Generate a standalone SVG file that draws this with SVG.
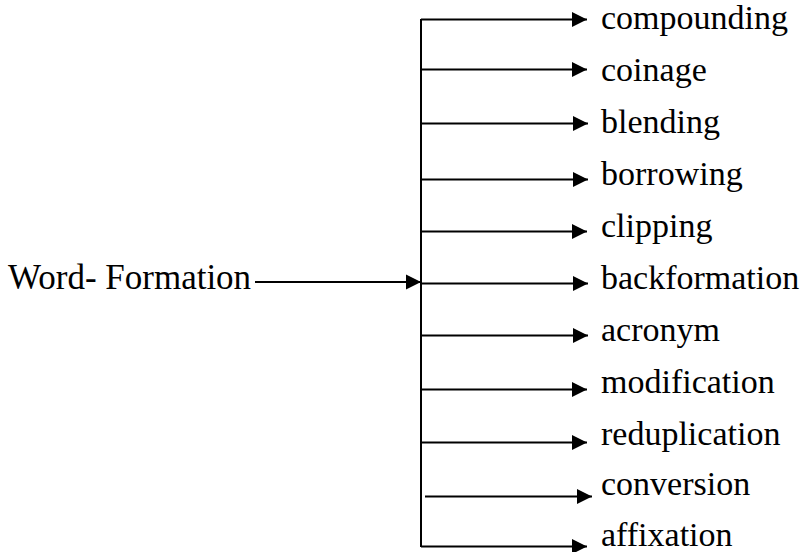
<svg xmlns="http://www.w3.org/2000/svg" width="806" height="552" viewBox="0 0 806 552">
<style>
.lbl{font-family:"Liberation Serif","Times New Roman",serif;font-size:34px;fill:#000}
.big{font-size:35px}
.ln{stroke:#000;stroke-width:2;fill:none}
</style>
<defs>
<marker id="ah" markerUnits="userSpaceOnUse" markerWidth="16" markerHeight="16" viewBox="0 0 16 16" refX="15" refY="8" orient="auto">
<path d="M0,0.5 L15,8 L0,15.5 Z" fill="#000"/>
</marker>
</defs>
<rect width="806" height="552" fill="#fff"/>
<g id="connectors">
<path class="ln" d="M421,19 V547"/>
<path class="ln" d="M255,282 H421" marker-end="url(#ah)"/>
<path class="ln" d="M421,19.5 H587" marker-end="url(#ah)"/>
<path class="ln" d="M421,69.5 H587" marker-end="url(#ah)"/>
<path class="ln" d="M421,123.5 H588" marker-end="url(#ah)"/>
<path class="ln" d="M421,179.5 H588" marker-end="url(#ah)"/>
<path class="ln" d="M421,231.5 H587" marker-end="url(#ah)"/>
<path class="ln" d="M421,283.5 H588" marker-end="url(#ah)"/>
<path class="ln" d="M421,335.5 H588" marker-end="url(#ah)"/>
<path class="ln" d="M421,389.5 H587" marker-end="url(#ah)"/>
<path class="ln" d="M421,442.5 H587" marker-end="url(#ah)"/>
<path class="ln" d="M425,496.5 H592" marker-end="url(#ah)"/>
<path class="ln" d="M421,546.5 H587" marker-end="url(#ah)"/>
</g>
<g id="word-formation"><text class="lbl big" x="8" y="289">Word- Formation</text></g>
<g id="compounding"><text class="lbl" x="601" y="29">compounding</text></g>
<g id="coinage"><text class="lbl" x="601" y="81">coinage</text></g>
<g id="blending"><text class="lbl" x="601" y="133">blending</text></g>
<g id="borrowing"><text class="lbl" x="601" y="185">borrowing</text></g>
<g id="clipping"><text class="lbl" x="601" y="237">clipping</text></g>
<g id="backformation"><text class="lbl" x="601" y="289">backformation</text></g>
<g id="acronym"><text class="lbl" x="601" y="341">acronym</text></g>
<g id="modification"><text class="lbl" x="601" y="393">modification</text></g>
<g id="reduplication"><text class="lbl" x="601" y="445">reduplication</text></g>
<g id="conversion"><text class="lbl" x="601" y="495">conversion</text></g>
<g id="affixation"><text class="lbl" x="601" y="546">affixation</text></g>
</svg>
